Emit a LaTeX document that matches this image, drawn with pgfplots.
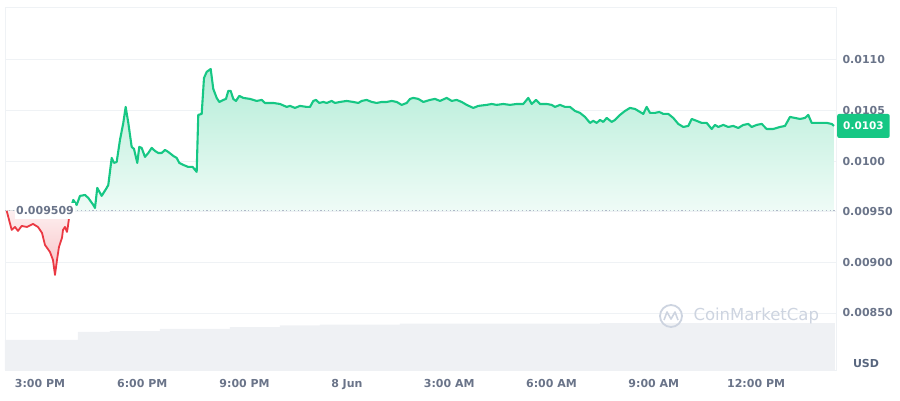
\documentclass[border=0pt]{standalone}
\usepackage{pgfplots}
\pgfplotsset{compat=1.18}
\usepackage{pgfplotstable}
\usepgfplotslibrary{fillbetween}
\usepackage{fontspec}
\setmainfont{DejaVu Sans}
\definecolor{cmcgreen}{HTML}{16C784}
\definecolor{cmcred}{HTML}{EA3943}
\definecolor{tickgray}{HTML}{6A7489}
\definecolor{gridgray}{HTML}{EFF2F5}
\definecolor{volgray}{HTML}{EFF1F4}
\definecolor{dotgray}{HTML}{B0B8C8}
\definecolor{markgray}{HTML}{CDD4E0}
\definecolor{usdgray}{HTML}{58667E}

\pgfplotstableread{
h p
14.023 0.009509
14.170 0.009320
14.267 0.009349
14.355 0.009310
14.463 0.009359
14.619 0.009349
14.795 0.009379
14.941 0.009349
15.059 0.009290
15.147 0.009171
15.293 0.009102
15.381 0.009023
15.440 0.008875
15.499 0.009023
15.557 0.009152
15.645 0.009241
15.675 0.009320
15.733 0.009349
15.792 0.009300
15.821 0.009359
15.880 0.009509
}\reddata

\pgfplotstableread{
h p
15.880 0.009509
15.977 0.009616
16.076 0.009567
16.173 0.009656
16.320 0.009665
16.416 0.009636
16.563 0.009567
16.613 0.009537
16.680 0.009735
16.809 0.009656
16.956 0.009735
17.003 0.009764
17.103 0.010031
17.170 0.009982
17.249 0.009991
17.346 0.010209
17.443 0.010377
17.513 0.010535
17.590 0.010377
17.689 0.010140
17.757 0.010120
17.853 0.009982
17.912 0.010140
17.982 0.010130
18.079 0.010041
18.176 0.010080
18.276 0.010130
18.373 0.010100
18.469 0.010080
18.569 0.010080
18.666 0.010110
18.763 0.010090
18.909 0.010051
19.009 0.010031
19.085 0.009982
19.202 0.009962
19.349 0.009942
19.478 0.009942
19.595 0.009893
19.642 0.010456
19.742 0.010466
19.810 0.010821
19.889 0.010881
20.006 0.010910
20.082 0.010713
20.182 0.010624
20.258 0.010584
20.376 0.010604
20.455 0.010614
20.522 0.010693
20.593 0.010693
20.669 0.010614
20.748 0.010594
20.845 0.010644
20.962 0.010624
21.159 0.010614
21.355 0.010594
21.502 0.010604
21.598 0.010574
21.842 0.010574
22.038 0.010564
22.235 0.010535
22.332 0.010545
22.478 0.010525
22.625 0.010545
22.821 0.010535
22.918 0.010535
23.015 0.010594
23.094 0.010604
23.191 0.010574
23.308 0.010584
23.408 0.010574
23.554 0.010594
23.651 0.010574
23.798 0.010584
23.994 0.010594
24.188 0.010584
24.335 0.010574
24.434 0.010594
24.581 0.010604
24.728 0.010584
24.874 0.010574
25.021 0.010584
25.167 0.010584
25.314 0.010594
25.461 0.010584
25.607 0.010555
25.754 0.010574
25.851 0.010614
25.947 0.010624
26.094 0.010614
26.241 0.010584
26.437 0.010604
26.584 0.010614
26.730 0.010594
26.927 0.010624
27.074 0.010594
27.220 0.010604
27.367 0.010584
27.513 0.010555
27.707 0.010525
27.854 0.010545
28.100 0.010555
28.247 0.010564
28.393 0.010555
28.587 0.010564
28.783 0.010555
28.980 0.010564
29.173 0.010564
29.320 0.010624
29.420 0.010564
29.546 0.010604
29.663 0.010564
29.860 0.010564
30.006 0.010555
30.103 0.010535
30.250 0.010555
30.396 0.010535
30.543 0.010535
30.690 0.010495
30.836 0.010476
30.983 0.010436
31.129 0.010377
31.226 0.010397
31.326 0.010377
31.423 0.010406
31.519 0.010387
31.619 0.010426
31.766 0.010387
31.863 0.010406
32.009 0.010456
32.156 0.010495
32.302 0.010525
32.449 0.010515
32.596 0.010485
32.692 0.010466
32.792 0.010535
32.889 0.010476
33.036 0.010476
33.162 0.010485
33.279 0.010466
33.426 0.010466
33.572 0.010426
33.719 0.010367
33.865 0.010337
34.012 0.010347
34.112 0.010416
34.258 0.010397
34.405 0.010377
34.552 0.010377
34.698 0.010317
34.795 0.010357
34.892 0.010337
35.039 0.010357
35.185 0.010337
35.332 0.010347
35.478 0.010327
35.625 0.010357
35.772 0.010367
35.871 0.010337
36.018 0.010357
36.165 0.010367
36.311 0.010317
36.505 0.010317
36.701 0.010337
36.848 0.010347
36.995 0.010436
37.141 0.010426
37.288 0.010416
37.434 0.010426
37.531 0.010456
37.631 0.010377
37.778 0.010377
37.924 0.010377
38.071 0.010377
38.217 0.010367
38.285 0.010347
}\greendata

\pgfplotstableread{
h v
13.974 8.3
16.114 10.5
17.053 10.7
18.519 11.3
20.572 11.8
22.038 12.3
23.211 12.5
25.557 12.8
31.423 12.9
38.314 12.9
}\voldata

\begin{document}
\begin{tikzpicture}
\pgfplotsset{
  common/.style={
    at={(5pt,30pt)}, anchor=south west, scale only axis,
    width=831pt, height=363pt,
    xmin=13.974, xmax=38.344,
  }
}
% volume
\begin{axis}[common, ymin=0, ymax=100, axis lines=none, ticks=none]
\addplot[const plot, fill=volgray, draw=none] table[x=h,y=v] {\voldata} \closedcycle;
\end{axis}
% price
\begin{axis}[common,
  ymin=0.007936, ymax=0.011522,
  axis line style={draw=gridgray, line width=0.8pt},
  ymajorgrids, grid style={draw=gridgray, line width=0.8pt},
  major tick length=0pt,
  scaled y ticks=false,
  xtick={15,18,21,24,27,30,33,36},
  xticklabels={3:00 PM,6:00 PM,9:00 PM,8 Jun,3:00 AM,6:00 AM,9:00 AM,12:00 PM},
  ytick={0.0085,0.009,0.0095,0.01,0.0105,0.011},
  yticklabels={0.00850,0.00900,0.00950,0.0100,0.0105,0.0110},
  yticklabel pos=right,
  ticklabel style={font=\fontsize{11}{13}\selectfont\bfseries, text=tickgray},
  yticklabel style={anchor=west, xshift=3pt},
  xticklabel style={text height=1.5ex, text depth=0.25ex, yshift=-6pt},
  clip=false,
]
\addplot[draw=none, name path=rline] table[x=h,y=p] {\reddata};
\addplot[draw=none, name path=rbase] coordinates {(14.023,0.009509) (15.880,0.009509)};
\addplot[draw=none, name path=gline] table[x=h,y=p] {\greendata};
\addplot[draw=none, name path=gbase] coordinates {(15.880,0.009509) (38.285,0.009509)};
\addplot[draw=none, top color=cmcred!8!white, bottom color=cmcred!32!white] fill between[of=rline and rbase];
\addplot[draw=none, top color=cmcgreen!32!white, bottom color=cmcgreen!7!white] fill between[of=gline and gbase];
\addplot[dotgray, line width=0.9pt, dash pattern=on 1.2pt off 2.6pt] coordinates {(13.974,0.009509) (38.344,0.009509)};
\addplot[cmcred, line width=1.8pt, line join=round] table[x=h,y=p] {\reddata};
\addplot[cmcgreen, line width=2.1pt, line join=round] table[x=h,y=p] {\greendata};
\node[fill=white, anchor=west, inner xsep=1.5pt, inner ysep=4pt, text=tickgray,
      font=\fontsize{11}{13}\selectfont\bfseries] at (axis cs:14.25,0.009509) {0.009509};
\coordinate (lastpt) at (axis cs:38.344,0.010347);
\end{axis}
\node[fill=cmcgreen, text=white, anchor=west, rounded corners=2pt, inner xsep=6pt,
      minimum height=24pt, font=\fontsize{10.5}{12}\selectfont\bfseries] at ([xshift=1pt]lastpt) {0.0103};
\node[text=usdgray, font=\fontsize{11}{13}\selectfont\bfseries] at (866pt,37pt) {USD};
% watermark
\draw[markgray, line width=1.8pt] (671pt,84pt) circle (11pt);
\draw[markgray, line width=1.6pt, line join=round] (664pt,80pt) -- (667pt,88pt) -- (671pt,81pt) -- (675pt,88pt) -- (678pt,80pt);
\node[text=markgray, anchor=west, font=\fontsize{16.5}{18}\selectfont] at (690pt,84pt) {CoinMarketCap};
\pgfresetboundingbox
\path[use as bounding box] (0,0) rectangle (900pt,400pt);
\end{tikzpicture}
\end{document}
